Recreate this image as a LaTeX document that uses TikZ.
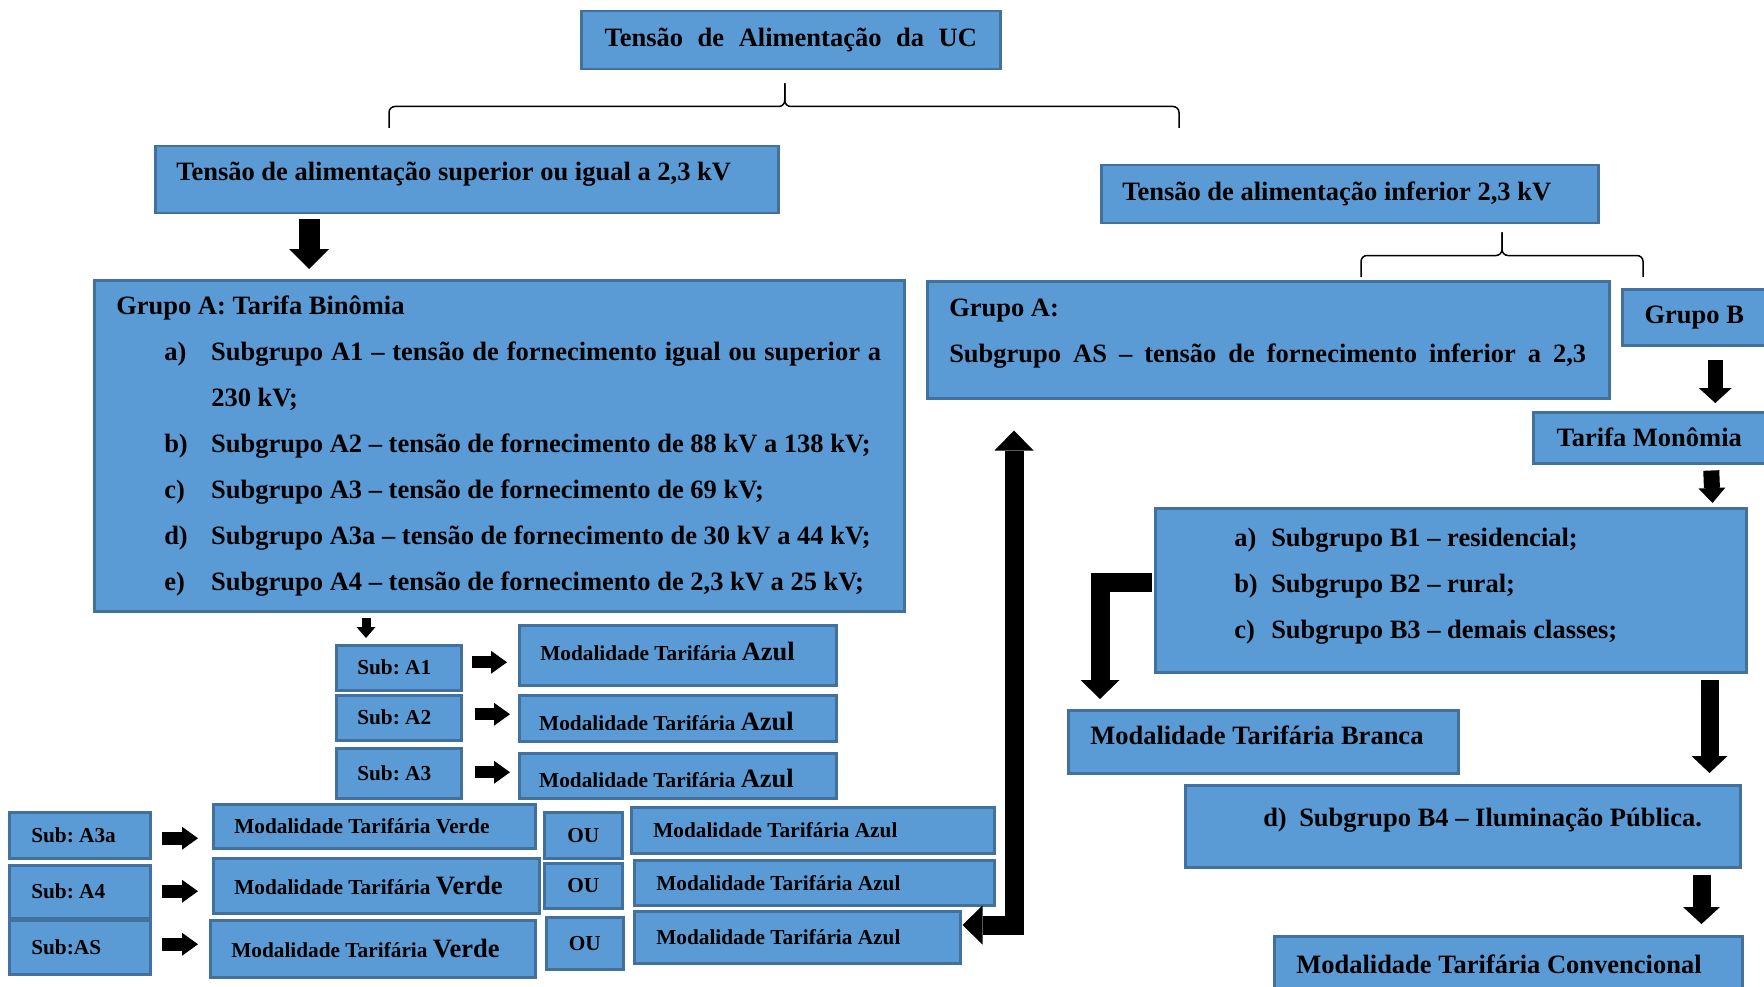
\documentclass[tikz,border=0pt]{standalone}
\usepackage{fontspec}
\setmainfont{Liberation Serif}
\usetikzlibrary{arrows.meta}

\definecolor{azulcx}{HTML}{5B9BD5}
\definecolor{bordacx}{HTML}{41719C}

\newcommand{\alinea}[4]{\hspace*{#1}\makebox[#2][l]{#3}\mbox{#4}}
\newcommand{\grande}{\fontsize{26.5pt}{32pt}\selectfont}

\tikzset{
  caixa/.style={draw=bordacx, fill=azulcx, line width=2.5pt, anchor=north west, inner ysep=0pt,
    font=\bfseries\fontsize{26.5pt}{46pt}\selectfont,
    execute at begin node={\spaceskip=0pt\xspaceskip=0pt}},
  caixap/.style={caixa, font=\bfseries\fontsize{21.3pt}{26pt}\selectfont},
  seta/.style n args={3}{line width=#1, -{Triangle[width=#2, length=#3, line width=0pt]}},
  seta2/.style n args={3}{line width=#1, {Triangle[width=#2, length=#3, line width=0pt]}-{Triangle[width=#2, length=#3, line width=0pt]}},
  chave/.style={line width=1.5pt, rounded corners=6pt},
}

\begin{document}
\frenchspacing
\begin{tikzpicture}[x=1pt, y=-1pt]
       \useasboundingbox (0,0) rectangle (1764,987);
       \clip (0,0) rectangle (1764,987);

       %topo
       \node[caixa, minimum width=419pt, minimum height=58pt] (titulo) at (580,10)
       {Tensão\hspace{.55em}de\hspace{.55em}Alimentação\hspace{.55em}da\hspace{.55em}UC};
       \node[caixa, minimum width=623pt, minimum height=67pt, text width=581pt, inner xsep=21pt, align=left, text depth=17pt] (superior) at (154,145)
       {Tensão de alimentação superior ou igual a 2,3 kV};
       \node[caixa, minimum width=497pt, minimum height=58pt, text width=455pt, inner xsep=21pt, align=left] (inferior) at (1100,164)
       {Tensão de alimentação inferior 2,3 kV};

       %grupo A
       \node[caixa, minimum width=810pt, minimum height=331pt, text width=766pt, inner xsep=22pt, align=left] (grupoA) at (93,279)
       {Grupo A: Tarifa Binômia\\
        \alinea{48pt}{47pt}{a)}{\makebox[670pt][s]{Subgrupo A1 -- tensão de fornecimento igual ou superior a}}\\
        \hspace*{95pt}230 kV;\\
        \alinea{48pt}{47pt}{b)}{Subgrupo A2 -- tensão de fornecimento de 88 kV a 138 kV;}\\
        \alinea{48pt}{47pt}{c)}{Subgrupo A3 -- tensão de fornecimento de 69 kV;}\\
        \alinea{48pt}{47pt}{d)}{Subgrupo A3a -- tensão de fornecimento de 30 kV a 44 kV;}\\
        \alinea{48pt}{47pt}{e)}{Subgrupo A4 -- tensão de fornecimento de 2,3 kV a 25 kV;}};
       \node[caixa, minimum width=682pt, minimum height=117pt, text width=638pt, inner xsep=22pt, align=left, text depth=64pt] (grupoAS) at (926,280)
       {Grupo A:\\ \makebox[637pt][s]{Subgrupo AS -- tensão de fornecimento inferior a 2,3}};

       %grupo B
       \node[caixa, minimum width=144pt, minimum height=56pt] (grupoB) at (1621,288) {Grupo B};
       \node[caixa, minimum width=232pt, minimum height=51pt] (monomia) at (1532,411) {Tarifa Monômia};
       \node[caixa, minimum width=591pt, minimum height=164pt, text width=547pt, inner xsep=22pt, align=left, text depth=106pt] (grupoB13) at (1154,507)
       {\alinea{57pt}{37pt}{a)}{Subgrupo B1 -- residencial;}\\
        \alinea{57pt}{37pt}{b)}{Subgrupo B2 -- rural;}\\
        \alinea{57pt}{37pt}{c)}{Subgrupo B3 -- demais classes;}};
       \node[caixa, minimum width=390pt, minimum height=63pt, text width=346pt, inner xsep=22pt, align=left, text depth=13pt] (branca) at (1067,709)
       {Modalidade Tarifária Branca};
       \node[caixa, minimum width=555pt, minimum height=82pt, text width=511pt, inner xsep=22pt, align=left, text depth=18pt] (grupoB4) at (1184,784)
       {\alinea{56pt}{36pt}{d)}{Subgrupo B4 -- Iluminação Pública.}};
       \node[caixa, minimum width=468pt, minimum height=56pt, text width=424pt, inner xsep=22pt, align=left] (convencional) at (1273,935)
       {Modalidade Tarifária Convencional};

       %subgrupos A1 A2 A3
       \node[caixap, minimum width=125pt, minimum height=45pt, text width=83pt, inner xsep=21pt, align=left] (subA1) at (335,644) {Sub: A1};
       \node[caixap, minimum width=125pt, minimum height=45pt, text width=83pt, inner xsep=21pt, align=left] (subA2) at (335,694) {Sub: A2};
       \node[caixap, minimum width=125pt, minimum height=50pt, text width=83pt, inner xsep=21pt, align=left] (subA3) at (335,747) {Sub: A3};

       \node[caixap, minimum width=317pt, minimum height=60pt, text width=275pt, inner xsep=21pt, align=left, text depth=8pt] (azulA1) at (518,624)
       {Modalidade Tarifária {\grande Azul}};
       \node[caixap, minimum width=317pt, minimum height=46pt] (azulA2) at (518,694) {};
       \node[caixap, minimum width=317pt, minimum height=45pt] (azulA3) at (518,752) {};
       \begin{scope}
       	\clip (azulA2.north west) rectangle ([yshift=13.5pt]azulA2.south east);
       	\node[anchor=base west, inner sep=0pt, font=\bfseries\fontsize{21.3pt}{26pt}\selectfont] (txtA2) at ([shift={(21,36.5)}]azulA2.north west)
       	{Modalidade Tarifária {\grande Azul}};
       \end{scope}
       \begin{scope}
       	\clip (azulA3.north west) rectangle ([yshift=13pt]azulA3.south east);
       	\node[anchor=base west, inner sep=0pt, font=\bfseries\fontsize{21.3pt}{26pt}\selectfont] (txtA3) at ([shift={(21,35.5)}]azulA3.north west)
       	{Modalidade Tarifária {\grande Azul}};
       \end{scope}

       %subgrupos A3a A4 AS
       \node[caixap, minimum width=141pt, minimum height=46pt, text width=97pt, inner xsep=22pt, align=left] (subA3a) at (8,811) {Sub: A3a};
       \node[caixap, minimum width=141pt, minimum height=53pt, text width=97pt, inner xsep=22pt, align=left] (subA4) at (8,864) {Sub: A4};
       \node[caixap, minimum width=141pt, minimum height=54pt, text width=97pt, inner xsep=22pt, align=left] (subAS) at (8,919) {Sub:AS};

       \node[caixap, minimum width=322pt, minimum height=44pt, text width=280pt, inner xsep=21pt, align=left] (verdeA3a) at (212,803)
       {Modalidade Tarifária Verde};
       \node[caixap, minimum width=326pt, minimum height=55pt, text width=284pt, inner xsep=21pt, align=left] (verdeA4) at (212,857)
       {Modalidade Tarifária {\grande Verde}};
       \node[caixap, minimum width=325pt, minimum height=57pt, text width=283pt, inner xsep=21pt, align=left] (verdeAS) at (209,919)
       {Modalidade Tarifária {\grande Verde}};

       \node[caixap, minimum width=78pt, minimum height=46pt] (ou1) at (543,811) {OU};
       \node[caixap, minimum width=78pt, minimum height=45pt] (ou2) at (543,862) {OU};
       \node[caixap, minimum width=77pt, minimum height=52pt] (ou3) at (545,916) {OU};

       \node[caixap, minimum width=363pt, minimum height=46pt, text width=319pt, inner xsep=22pt, align=left] (azulR1) at (630,806)
       {Modalidade Tarifária Azul};
       \node[caixap, minimum width=360pt, minimum height=45pt, text width=316pt, inner xsep=22pt, align=left] (azulR2) at (633,859)
       {Modalidade Tarifária Azul};
       \node[caixap, minimum width=326pt, minimum height=52pt, text width=282pt, inner xsep=22pt, align=left] (azulR3) at (633,910)
       {Modalidade Tarifária Azul};

       %chaves
       \coordinate (pontaA) at ([shift={(-6,13)}]titulo.south);
       \draw[chave] ([shift={(235,-17)}]superior.north west) |- ([shift={(0,23)}]pontaA) -- (pontaA);
       \draw[chave] (pontaA) -- ([shift={(0,23)}]pontaA) -| ([shift={(79,-36)}]inferior.north west);
       \coordinate (pontaB) at ([shift={(402,8)}]inferior.south west);
       \draw[chave] ([shift={(435,-3)}]grupoAS.north west) |- ([shift={(0,23)}]pontaB) -- (pontaB);
       \draw[chave] (pontaB) -- ([shift={(0,23)}]pontaB) -| ([shift={(22,-11)}]grupoB.north west);

       %setas
       \draw[seta={21pt}{40pt}{20pt}] ([shift={(155,5)}]superior.south west) -- ([shift={(216,-10)}]grupoA.north west);
       \draw[seta={9pt}{19pt}{11pt}] ([shift={(273,5)}]grupoA.south west) -- ([shift={(31,-6)}]subA1.north west);
       \draw[seta={12pt}{23pt}{16pt}] ([shift={(9,-5.5)}]subA1.east) -- ([shift={(-11,7)}]azulA1.west);
       \draw[seta={12pt}{23pt}{16pt}] ([shift={(12,-3.5)}]subA2.east) -- ([shift={(-8,-4)}]azulA2.west);
       \draw[seta={12pt}{23pt}{16pt}] ([shift={(12,-1)}]subA3.east) -- ([shift={(-8,-3.5)}]azulA3.west);
       \draw[seta={13pt}{23pt}{16pt}] ([shift={(10,3)}]subA3a.east) -- ([shift={(-14,12)}]verdeA3a.west);
       \draw[seta={13pt}{23pt}{16pt}] ([shift={(10,-0.5)}]subA4.east) -- ([shift={(-14,5.5)}]verdeA4.west);
       \draw[seta={13pt}{23pt}{16pt}] ([shift={(10,-3)}]subAS.east) -- ([shift={(-11,-4.5)}]verdeAS.west);

       \draw[seta={15pt}{33pt}{15pt}] ([shift={(21,13)}]grupoB.south) -- ([shift={(66,-8)}]monomia.north);
       \draw[seta={16pt}{27pt}{15pt}] ([shift={(62,6)}]monomia.south) -- ([shift={(-35,-4)}]grupoB13.north east);
       \draw[seta={18pt}{36pt}{17pt}] ([shift={(-38,6)}]grupoB13.south east) -- ([shift={(-32,-11)}]grupoB4.north east);
       \draw[seta={18pt}{37pt}{17pt}] ([shift={(-40,6)}]grupoB4.south east) -- ([shift={(-42,-11)}]convencional.north east);
       \draw[seta={19pt}{39pt}{19pt}] ([shift={(-2,75)}]grupoB13.north west) -| ([shift={(33,-10)}]branca.north west);
       \draw[seta2={19pt}{39pt}{20pt}] ([shift={(1,15)}]azulR3.north east) -| ([shift={(88,31)}]grupoAS.south west);

\end{tikzpicture}
\end{document}
